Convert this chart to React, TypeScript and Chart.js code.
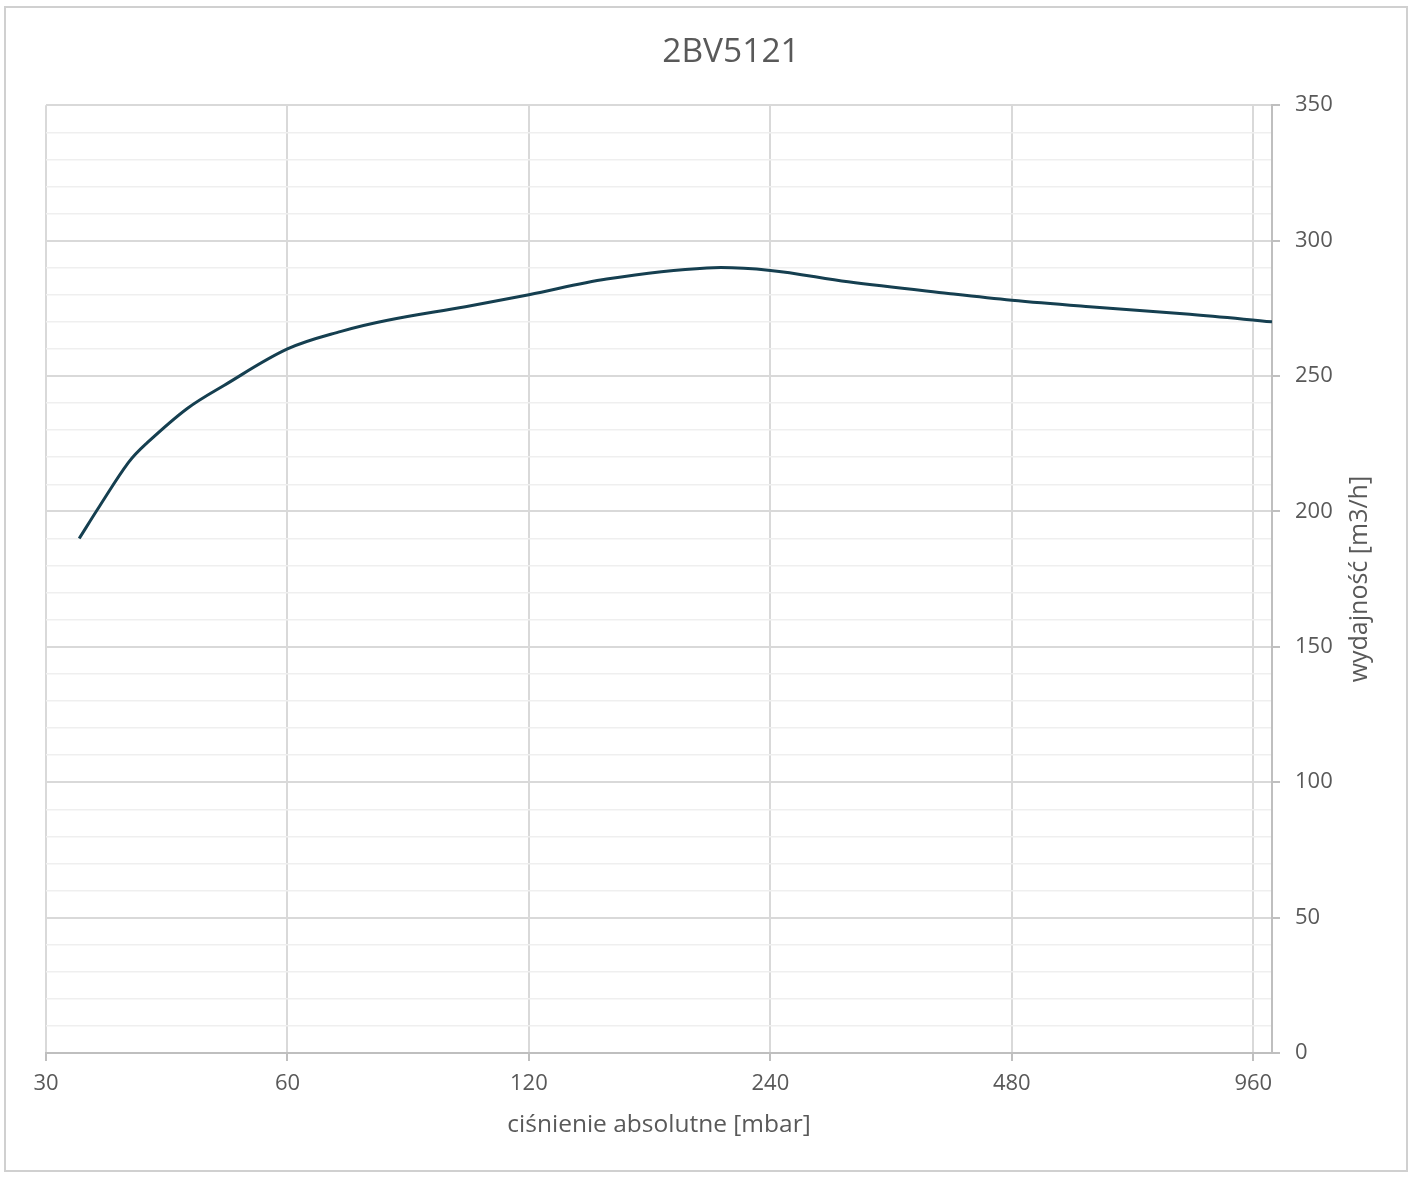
import React, { useEffect, useRef } from "react";
import { Chart, registerables } from "chart.js";

Chart.register(...registerables);

const chartTitle = "2BV5121";
const xAxisTitle = "ciśnienie absolutne [mbar]";
const yAxisTitle = "wydajność [m3/h]";

const pressures = [33, 35, 38, 40, 45, 50, 60, 70, 80, 100, 120, 150, 200, 240, 300, 400, 480, 600, 800, 1013];
const capacities = [190, 202, 218, 225, 238, 246.5, 260, 266.5, 270.6, 275.6, 280, 285.8, 289.9, 289, 284.8, 280.5, 278, 275.6, 272.8, 270];

const xTicks = [30, 60, 120, 240, 480, 960];
const xMin = 30;
const xMax = 1013;
const yMin = 0;
const yMax = 350;
const yMinorStep = 10;
const yMajorStep = 50;

const FONT = "'Open Sans', 'Liberation Sans', sans-serif";
const TEXT = "#595959";
const W = 1416;
const H = 1177;

const yTitlePlugin = {
  id: "yTitleRotated",
  afterDraw(chart: any) {
    const { ctx, chartArea } = chart;
    const ys = chart.scales.y;
    ctx.save();
    ctx.translate(ys.right - 56, (chartArea.top + chartArea.bottom) / 2);
    ctx.rotate(-Math.PI / 2);
    ctx.font = `25px ${FONT}`;
    ctx.fillStyle = TEXT;
    ctx.textAlign = "center";
    ctx.textBaseline = "middle";
    ctx.fillText(yAxisTitle, 0, 0);
    ctx.restore();
  },
};

export default function App() {
  const ref = useRef<HTMLCanvasElement | null>(null);

  useEffect(() => {
    if (!ref.current) return;
    const points = pressures.map((p, i) => ({ x: p, y: capacities[i] }));
    const chart = new Chart(ref.current, {
      type: "line",
      data: {
        datasets: [
          {
            data: points,
            borderColor: "#153f50",
            borderWidth: 3,
            pointRadius: 0,
            tension: 0.35,
            fill: false,
          },
        ],
      },
      options: {
        animation: false,
        responsive: false,
        devicePixelRatio: 1,
        layout: { padding: { left: 46, right: 0, top: 0, bottom: 0 } },
        plugins: {
          legend: { display: false },
          tooltip: { enabled: false },
          title: {
            display: true,
            text: chartTitle,
            color: TEXT,
            font: { family: FONT, size: 33.5, weight: "normal" },
            padding: { top: 32, bottom: 33 },
          },
        },
        scales: {
          x: {
            type: "logarithmic",
            position: "bottom",
            min: xMin,
            max: xMax,
            afterBuildTicks: (scale: any) => {
              scale.ticks = xTicks.map((v) => ({ value: v }));
            },
            afterFit: (scale: any) => {
              scale.height = 124;
            },
            ticks: {
              autoSkip: false,
              maxRotation: 0,
              padding: 10,
              color: TEXT,
              font: { family: FONT, size: 22 },
              callback: (v: any) => String(v),
            },
            grid: {
              color: "#d9d9d9",
              lineWidth: 2,
              drawTicks: true,
              tickLength: 8,
              tickColor: "#bfbfbf",
              tickWidth: 2,
            },
            border: { display: true, color: "#bfbfbf", width: 2 },
            title: {
              display: true,
              text: xAxisTitle,
              color: TEXT,
              font: { family: FONT, size: 24.5 },
              padding: { top: 0, bottom: 37 },
            },
          },
          y: {
            type: "linear",
            position: "right",
            min: yMin,
            max: yMax,
            afterFit: (scale: any) => {
              scale.width = 144;
            },
            ticks: {
              stepSize: yMinorStep,
              autoSkip: false,
              padding: 15,
              color: TEXT,
              font: { family: FONT, size: 22 },
              callback: (v: any) => (Number(v) % yMajorStep === 0 ? String(v) : ""),
            },
            grid: {
              color: (c: any) => (c.tick && c.tick.value % yMajorStep === 0 ? "#d9d9d9" : "#efefef"),
              lineWidth: (c: any) => (c.tick && c.tick.value % yMajorStep === 0 ? 2 : 1.5),
              drawTicks: true,
              tickLength: 8,
              tickColor: (c: any) =>
                c.tick && c.tick.value % yMajorStep === 0 ? "#bfbfbf" : "rgba(0,0,0,0)",
              tickWidth: 2,
            },
            border: { display: true, color: "#bfbfbf", width: 2 },
            title: { display: false },
          },
        },
      },
      plugins: [yTitlePlugin],
    } as any);
    return () => chart.destroy();
  }, []);

  return (
    <div style={{ position: "absolute", left: 0, top: 0, width: W, height: H, background: "#fff" }}>
      <div
        style={{
          position: "absolute",
          left: 4,
          top: 6,
          width: 1404,
          height: 1166,
          boxSizing: "border-box",
          border: "2px solid #d0d0d0",
        }}
      />
      <canvas
        ref={ref}
        width={W}
        height={H}
        style={{ position: "absolute", left: 0, top: 0, width: W, height: H }}
      />
    </div>
  );
}
